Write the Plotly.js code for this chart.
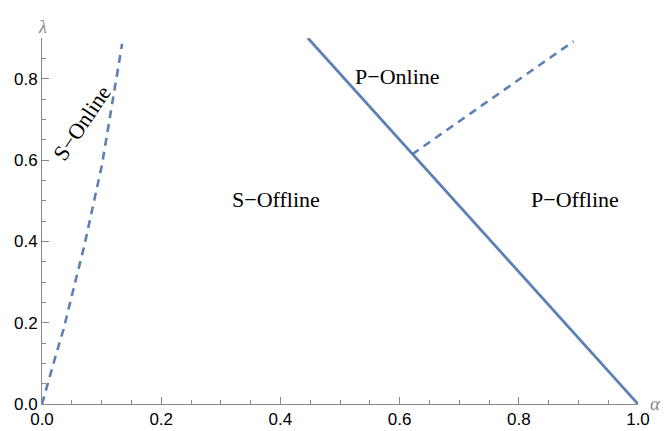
<!DOCTYPE html>
<html>
<head>
<meta charset="utf-8">
<script src="https://cdn.plot.ly/plotly-3.0.1.min.js"></script>
<style>html,body{margin:0;padding:0;background:#fff;}#chart{width:664px;height:431px;}</style>
</head>
<body>
<div id="chart"></div>
<script>
// Boundary: solid line from top edge to (1, 0)
const solidAlpha = [0.446, 1.0];
const solidLambda = [0.9, 0.0];
// Dashed boundary from intersection to upper right
const dashRightAlpha = [0.621, 0.892];
const dashRightLambda = [0.614, 0.892];
// Dashed curve near origin
const dashLeftAlpha = [0.0, 0.0079, 0.0218, 0.0358, 0.0482, 0.0593, 0.0711, 0.0862, 0.1003, 0.1087, 0.117, 0.1255, 0.1345];
const dashLeftLambda = [0.0, 0.0433, 0.1126, 0.1819, 0.2514, 0.3207, 0.39, 0.492, 0.586, 0.659, 0.733, 0.806, 0.886];
// Region labels
const regionNames = ["S\u2212Online", "S\u2212Offline", "P\u2212Online", "P\u2212Offline"];
const xTicks = [0, 0.2, 0.4, 0.6, 0.8, 1.0];
const xTickText = ["0.0", "0.2", "0.4", "0.6", "0.8", "1.0"];
const yTicks = [0, 0.2, 0.4, 0.6, 0.8];
const yTickText = ["0.0", "0.2", "0.4", "0.6", "0.8"];

const lineColor = "rgb(94,129,181)";
const traces = [
  {x: solidAlpha, y: solidLambda, mode: "lines", line: {color: lineColor, width: 2.8}, hoverinfo: "skip"},
  {x: dashRightAlpha, y: dashRightLambda, mode: "lines", line: {color: lineColor, width: 2.6, dash: "8px,6px"}, hoverinfo: "skip"},
  {x: dashLeftAlpha, y: dashLeftLambda, mode: "lines", line: {color: lineColor, width: 2.6, dash: "8px,6px"}, hoverinfo: "skip"}
];

const serif = {family: "Liberation Serif, Times New Roman, serif", size: 22, color: "#000"};
const axisCommon = {
  showgrid: false, zeroline: false, showline: true, linecolor: "#888", linewidth: 1,
  ticks: "inside", ticklen: 7, tickcolor: "#888", tickwidth: 1,
  tickfont: {family: "Liberation Sans, Arial, sans-serif", size: 17, color: "#000"},
  minor: {dtick: 0.05, ticks: "inside", ticklen: 4, tickcolor: "#888", tickwidth: 1, showgrid: false},
  automargin: false, fixedrange: true
};

const layout = {
  width: 664, height: 431,
  margin: {l: 42, r: 26, t: 38, b: 27},
  paper_bgcolor: "#fff", plot_bgcolor: "#fff",
  showlegend: false,
  xaxis: Object.assign({}, axisCommon, {range: [0, 1.0], tickvals: xTicks, ticktext: xTickText, ticklabelstandoff: 0}),
  yaxis: Object.assign({}, axisCommon, {range: [0, 0.9], tickvals: yTicks, ticktext: yTickText}),
  annotations: [
    {x: 0.067, y: 0.693, xref: "x", yref: "y", text: regionNames[0], showarrow: false, textangle: -56, font: serif},
    {x: 0.393, y: 0.504, xref: "x", yref: "y", text: regionNames[1], showarrow: false, font: serif},
    {x: 0.597, y: 0.805, xref: "x", yref: "y", text: regionNames[2], showarrow: false, font: serif},
    {x: 0.894, y: 0.504, xref: "x", yref: "y", text: regionNames[3], showarrow: false, font: serif},
    {x: 0, y: 1, xref: "x", yref: "paper", yshift: 23, text: "<i>\u03bb</i>", showarrow: false, font: {family: "Liberation Serif, serif", size: 18, color: "#888"}, xanchor: "center"},
    {x: 1, y: 0, xref: "paper", yref: "y", xshift: 17, yshift: 1, text: "<i>\u03b1</i>", showarrow: false, font: {family: "Liberation Serif, serif", size: 19, color: "#888"}, xanchor: "center"}
  ]
};

Plotly.newPlot("chart", traces, layout, {displayModeBar: false, staticPlot: true});
</script>
</body>
</html>
